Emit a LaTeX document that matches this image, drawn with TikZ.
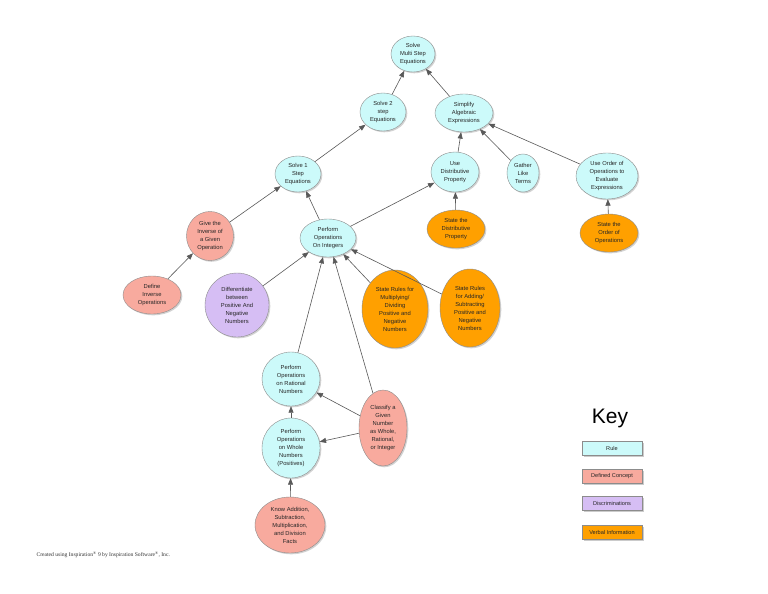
\documentclass[tikz,border=0pt]{standalone}
\usepackage{fontspec}
\setmainfont{Liberation Sans}
\newfontfamily\footfont{Liberation Serif}
\usepackage{tikz}
\usetikzlibrary{shapes.geometric, arrows.meta, shadows}

\definecolor{rulefill}{RGB}{204,250,250}
\definecolor{conceptfill}{RGB}{248,170,158}
\definecolor{discrimfill}{RGB}{214,190,244}
\definecolor{verbalfill}{RGB}{255,160,0}

\begin{document}
\begin{tikzpicture}[
    x=1pt, y=-1pt,
    bubble/.style={ellipse, draw=black!45, inner sep=0pt,
                   align=center, text=black!85,
                   font=\fontsize{5.8}{8}\selectfont,
                   drop shadow={shadow xshift=1.3pt, shadow yshift=-1.3pt, fill=black!35}},
    rulenode/.style={bubble, fill=rulefill},
    definednode/.style={bubble, fill=conceptfill},
    discrimnode/.style={bubble, fill=discrimfill},
    verbalnode/.style={bubble, fill=verbalfill},
    dims/.style 2 args={minimum width=#1, minimum height=#2},
    keybox/.style={rectangle, draw=black!45, minimum width=60pt, minimum height=14pt,
                   inner sep=0pt, font=\fontsize{5.6}{6}\selectfont, text=black!85,
                   drop shadow={shadow xshift=1.5pt, shadow yshift=-1.5pt, fill=black!40}},
    arr/.style={-{Triangle[length=6.5pt,width=5pt]}, draw=black!65, line width=0.6pt}
]
\useasboundingbox[fill=white] (0,0) rectangle (768,594);

% top levels
\node[rulenode, dims={44pt}{36pt}] (multi)    at (413,54)  {Solve\\Multi Step\\Equations};
\node[rulenode, dims={46pt}{38pt}] (twostep)  at (383,112) {Solve 2\\step\\Equations};
\node[rulenode, dims={58pt}{38pt}] (simplify) at (464,113) {Simplify\\Algebraic\\Expressions};
\node[rulenode, dims={48pt}{40pt}] (usedist)  at (455,172) {Use\\Distributive\\Property};
\node[rulenode, dims={32pt}{38pt}] (gather)   at (523,173) {Gather\\Like\\Terms};
\node[rulenode, dims={62pt}{46pt}] (useorder) at (607,176) {Use Order of\\Operations to\\Evaluate\\Expressions};
\node[verbalnode, dims={58pt}{38pt}] (statedist)  at (456,229) {State the\\Distributive\\Property};
\node[verbalnode, dims={58pt}{38pt}] (stateorder) at (609,233) {State the\\Order of\\Operations};

% integers branch
\node[rulenode, dims={46pt}{36pt}] (onestep)  at (298,174) {Solve 1\\Step\\Equations};
\node[definednode, dims={47pt}{49pt}] (inverse)   at (210,236) {Give the\\Inverse of\\a Given\\Operation};
\node[definednode, dims={58pt}{38pt}] (defineinv) at (152,295) {Define\\Inverse\\Operations};
\node[rulenode, dims={56pt}{38pt}] (integers) at (328,238) {Perform\\Operations\\On Integers};
\node[discrimnode, dims={64pt}{64pt}] (differ) at (237,305) {Differentiate\\between\\Positive And\\Negative\\Numbers};
\node[verbalnode, dims={66pt}{78pt}] (rulesmult) at (395,309) {State Rules for\\Multiplying/\\Dividing\\Positive and\\Negative\\Numbers};
\node[verbalnode, dims={60pt}{78pt}] (rulesadd)  at (470,308) {State Rules\\for Adding/\\Subtracting\\Positive and\\Negative\\Numbers};

% numbers
\node[rulenode, dims={58pt}{54pt}] (rational) at (291,379) {Perform\\Operations\\on Rational\\Numbers};
\node[rulenode, dims={58pt}{60pt}] (whole)    at (291,448) {Perform\\Operations\\on Whole\\Numbers\\(Positives)};
\node[definednode, dims={48pt}{76pt}] (classify) at (383,428) {Classify a\\Given\\Number\\as Whole,\\Rational,\\or Integer};
\node[definednode, dims={70pt}{56pt}] (knowfacts) at (290,525) {Know Addition,\\Subtraction,\\Multiplication,\\and Division\\Facts};

% key
\node[font=\fontsize{21}{24}\selectfont] (keytitle) at (610,418) {Key};
\node[keybox, fill=rulefill]    (keyrule)    at (612,448) {Rule};
\node[keybox, fill=conceptfill] (keyconcept) at (612,476) {Defined Concept};
\node[keybox, fill=discrimfill] (keydiscrim) at (612,503) {Discriminations};
\node[keybox, fill=verbalfill]  (keyverbal)  at (612,532) {Verbal Information};

\node[anchor=west, font=\footfont\fontsize{5.6}{6}\selectfont, text=black!80] (credit) at (33,555)
    {Created using Inspiration\textsuperscript{\textregistered} 9 by Inspiration Software\textsuperscript{\textregistered}, Inc.};

% links
\draw[arr] (twostep)    -- (multi);
\draw[arr] (simplify)   -- (multi);
\draw[arr] (onestep)    -- (twostep);
\draw[arr] (usedist)    -- (simplify);
\draw[arr] (gather)     -- (simplify);
\draw[arr] (useorder)   -- (simplify);
\draw[arr] (statedist)  -- (usedist);
\draw[arr] (stateorder) -- (useorder);
\draw[arr] (integers)   -- (usedist);
\draw[arr] (integers)   -- (onestep);
\draw[arr] (inverse)    -- (onestep);
\draw[arr] (defineinv)  -- (inverse);
\draw[arr] (differ)     -- (integers);
\draw[arr] (rulesmult)  -- (integers);
\draw[arr] (rulesadd)   -- (integers);
\draw[arr] (rational)   -- (integers);
\draw[arr] (classify)   -- (integers);
\draw[arr] (whole)      -- (rational);
\draw[arr] (classify)   -- (rational);
\draw[arr] (classify)   -- (whole);
\draw[arr] (knowfacts)  -- (whole);
\end{tikzpicture}
\end{document}
